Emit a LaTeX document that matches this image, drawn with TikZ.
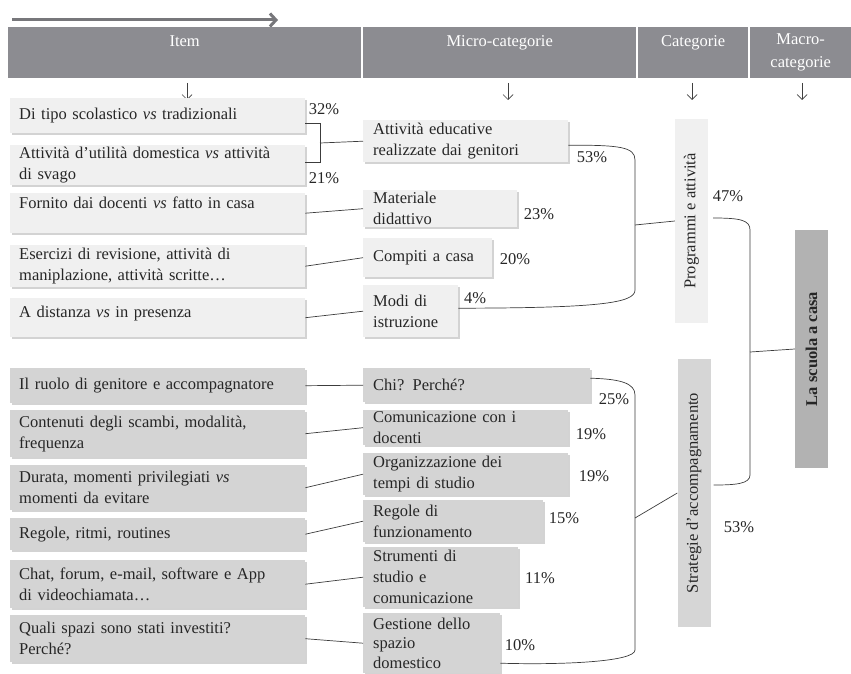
\documentclass[tikz,border=0pt]{standalone}
\usepackage{fontspec}
\setmainfont{Liberation Serif}
\usetikzlibrary{arrows.meta,shadows}
\definecolor{hdrgray}{RGB}{140,140,145}
\definecolor{lightbox}{RGB}{240,240,240}
\definecolor{midbox}{RGB}{212,212,212}
\definecolor{stratbox}{RGB}{214,214,214}
\definecolor{darkbox}{RGB}{178,178,178}
\definecolor{linegray}{RGB}{60,60,60}
\tikzset{
  hdr/.style={rectangle, fill=hdrgray, text=white, anchor=north west,
    minimum height=51pt, align=center, inner sep=0pt,
    font=\fontsize{16.5}{23}\selectfont},
  itemtop/.style={rectangle, fill=lightbox, anchor=north west,
    text width=277pt, inner xsep=9pt, inner ysep=1pt, align=left,
    drop shadow={shadow xshift=1.5pt, shadow yshift=-2pt, opacity=0.35}},
  itembot/.style={itemtop, fill=midbox},
  microtop/.style={itemtop, inner xsep=10pt},
  microbot/.style={microtop, fill=midbox},
  catbox/.style={rectangle, rotate=90, inner sep=0pt, minimum height=33pt},
  conn/.style={draw=linegray, line width=0.7pt},
  pctlabel/.style={inner sep=0pt},
  toparr/.style={draw=hdrgray!85!black, line width=3pt, -{Straight Barb[length=6pt,width=13pt]}},
  downarr/.style={draw=black!75, line width=0.7pt, -{Straight Barb[length=5pt,width=10pt]}}
}
\newcommand*{\share}[3]
  {\node[pctlabel] (#1) at (#2) {#3\%}}

\begin{document}
\begin{tikzpicture}[x=1pt, y=-1pt, font=\fontsize{16.5}{21}\selectfont, text=black!85]
\clip (0,0) rectangle (851,674);
\coordinate (arrS) at (12,20);
\coordinate (arrE) at (278,20);
\draw[toparr] (arrS) -- (arrE);
\node[hdr, minimum width=353pt] (hItem) at (8,27) {Item\\\mbox{}};
\node[hdr, minimum width=273pt] (hMicro) at (363,27) {Micro-categorie\\\mbox{}};
\node[hdr, minimum width=110pt] (hCat) at (638,27) {Categorie\\\mbox{}};
\node[hdr, minimum width=101pt] (hMacro) at (750,27) {Macro-\\categorie};
\foreach \x in {187,508,692,802}
  \draw[downarr] (\x,83) -- (\x,100);
\node[itemtop, minimum height=35pt] (i1) at (10,98) {Di tipo scolastico \textit{vs} tradizionali};
\node[itemtop, minimum height=40pt] (i2) at (10,145) {Attività d'utilità domestica \textit{vs} attività\\di svago};
\node[itemtop, minimum height=40pt] (i3) at (10,193) {Fornito dai docenti \textit{vs} fatto in casa\\\mbox{}};
\node[itemtop, minimum height=42pt] (i4) at (10,245) {Esercizi di revisione, attività di\\maniplazione, attività scritte…};
\node[itemtop, minimum height=39pt] (i5) at (10,298) {A distanza \textit{vs} in presenza\\[-10pt]\mbox{}};
\node[microtop, text width=185pt, minimum height=42pt] (m1) at (363,120) {Attività educative\\realizzate dai genitori};
\node[microtop, text width=134pt, minimum height=37pt] (m2) at (363,190) {Materiale\\didattivo};
\node[microtop, text width=109pt, minimum height=39pt] (m3) at (363,238) {Compiti a casa};
\node[microtop, text width=75pt, minimum height=52pt] (m4) at (363,285) {Modi di\\istruzione};
\node[itembot, minimum height=35pt] (b1) at (10,368) {Il ruolo di genitore e accompagnatore};
\node[itembot, minimum height=47pt] (b2) at (10,410) {Contenuti degli scambi, modalità,\\frequenza};
\node[itembot, minimum height=45pt] (b3) at (10,465) {Durata, momenti privilegiati \textit{vs}\\momenti da evitare};
\node[itembot, minimum height=32pt] (b4) at (10,518) {Regole, ritmi, routines};
\node[itembot, minimum height=48pt] (b5) at (10,560) {Chat, forum, e-mail, software e App\\di videochiamata…};
\node[itembot, minimum height=47pt] (b6) at (10,615) {Quali spazi sono stati investiti?\\Perché?};
\node[microbot, text width=207pt, minimum height=34pt] (c1) at (363,368) {Chi? Perché?};
\node[microbot, text width=185pt, minimum height=35pt] (c2) at (363,410) {Comunicazione con i\\docenti};
\node[microbot, text width=185pt, minimum height=42pt] (c3) at (363,453) {Organizzazione dei\\tempi di studio};
\node[microbot, text width=160pt, minimum height=42pt] (c4) at (363,500) {Regole di\\funzionamento};
\node[microbot, text width=135pt, minimum height=60pt] (c5) at (363,547) {Strumenti di\\studio e\\comunicazione};
\node[microbot, text width=117pt, minimum height=60pt, font=\fontsize{16.5}{19.5}\selectfont] (c6) at (363,613) {Gestione dello\\spazio\\domestico};
\node[catbox, fill=lightbox, minimum width=204pt] (prog) at (691.5,221) {Programmi e attività};
\node[catbox, fill=stratbox, minimum width=268pt] (strat) at (694,493) {Strategie d'accompagnamento};
\node[catbox, fill=darkbox, minimum width=238pt] (scuola) at (811.5,349) {\bfseries La scuola a casa};
\share{p32}{324,109}{32};
\share{p21}{324,178}{21};
\share{p53a}{592,157}{53};
\share{p23}{539,214}{23};
\share{p20}{515,259}{20};
\share{p4}{475,298}{4};
\share{p25}{614,399}{25};
\share{p19a}{591,434}{19};
\share{p19b}{594,476}{19};
\share{p15}{564,518}{15};
\share{p11}{540,578}{11};
\share{p10}{520,645}{10};
\share{p47}{728,196}{47};
\share{p53b}{739,527}{53};
\draw[conn] ([yshift=-7.5pt]i1.east) -- ++(15,0) |- ([yshift=3pt]i2.east);
\coordinate (brA) at (320,143);
\draw[conn] (brA) -- (m1.west);
\foreach \a/\b in {i3/m2,i4/m3,i5/m4,b1/c1,b2/c2,b3/c3,b4/c4,b5/c5,b6/c6}
  \draw[conn] (\a.east) -- (\b.west);
\coordinate (spA) at (635,225);
\draw[conn] ([yshift=-4pt]m1.east) .. controls (620,145) and (635,147) .. (635,160)
  -- (635,290) .. controls (635,303) and (600,308) .. ([yshift=3pt]m4.east);
\draw[conn] (spA) -- (prog.north);
\coordinate (spB) at (635,518);
\draw[conn] ([yshift=7pt]c1.east) .. controls (620,379) and (635,383) .. (635,395)
  -- (635,650) .. controls (635,662) and (560,665) .. ([yshift=-20pt]c6.east);
\draw[conn] (spB) -- (strat.north);
\coordinate (spC) at (750,352);
\draw[conn] ([xshift=5pt,yshift=3pt]prog.south) .. controls (740,218) and (750,220) .. (750,230)
  -- (750,475) .. controls (750,484) and (735,485) .. ([xshift=3pt,yshift=8pt]strat.south);
\draw[conn] (spC) -- (scuola.north);
\end{tikzpicture}
\end{document}
